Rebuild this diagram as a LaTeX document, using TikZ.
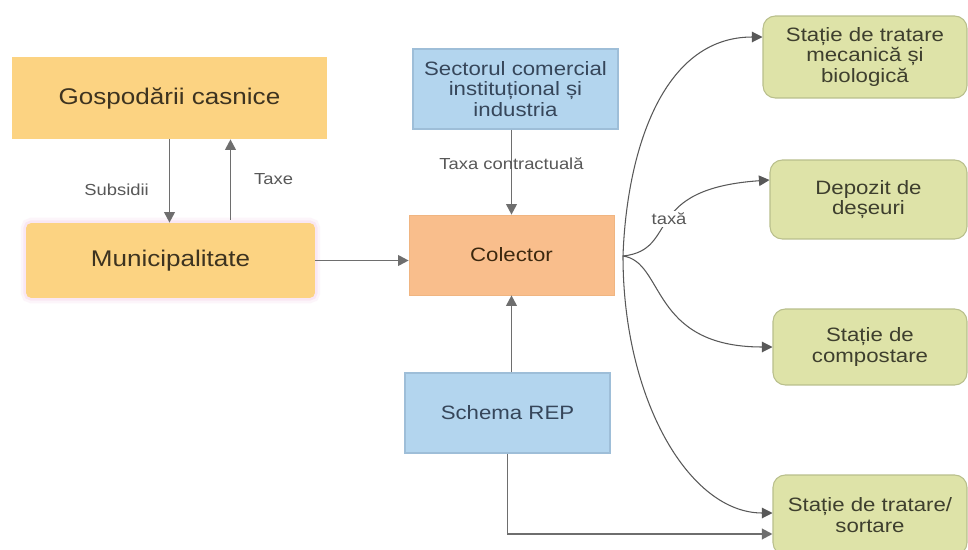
\documentclass[tikz,border=0pt]{standalone}
\usepackage{fontspec}
\setmainfont[FakeStretch=1.15]{Liberation Sans}
\usetikzlibrary{arrows.meta,positioning}

\definecolor{galben}{HTML}{FCD382}
\definecolor{somon}{HTML}{F9BE8C}
\definecolor{albastru}{HTML}{B3D5EE}
\definecolor{chenaralb}{HTML}{9EBED8}
\definecolor{verde}{HTML}{DEE3A8}
\definecolor{chenarverde}{HTML}{B9BF8C}
\definecolor{roz}{HTML}{F4CFE6}
\definecolor{gri}{HTML}{6E6E6E}
\definecolor{gricurba}{HTML}{585858}
\definecolor{textmaro}{HTML}{3D3320}
\definecolor{textalb}{HTML}{36465A}
\definecolor{textverde}{HTML}{3E3F2E}

\tikzset{
  cutie/.style={inner sep=2pt, align=center},
  cutiemare/.style={cutie, fill=galben, text=textmaro, font=\fontsize{12.9}{14}\selectfont},
  cutiealb/.style={cutie, fill=albastru, draw=chenaralb, line width=0.6pt, text=textalb, font=\fontsize{11}{11.5}\selectfont},
  cutieverde/.style={cutie, fill=verde, draw=chenarverde, line width=0.6pt, rounded corners=7pt, text=textverde, font=\fontsize{11}{11.8}\selectfont},
  sageata/.style={draw=gri, line width=1.1pt, -{Triangle[length=6pt,width=6pt]}},
  curba/.style={draw=gricurba, line width=0.6pt, -{Triangle[length=6pt,width=6pt]}},
  eticheta/.style={text=gri!80!black, font=\fontsize{9.1}{10}\selectfont, inner sep=1pt},
  stralucire/.style={preaction={draw=roz, line width=6pt, opacity=0.2},
                     preaction={draw=roz, line width=3pt, opacity=0.35}}
}

\begin{document}
\begin{tikzpicture}[x=0.02cm,y=0.02cm]
\useasboundingbox (0,0) rectangle (968,549);
\clip (0,0) rectangle (968,549);
\fill[white] (0,0) rectangle (968,549);

% stanga
\node[cutiemare, minimum width=6.3cm, minimum height=1.64cm] (gosp) at (169.5,451) {Gospodării casnice};
\node[cutiemare, stralucire, minimum width=5.78cm, minimum height=1.5cm, rounded corners=3pt] (muni) at (170.5,288.5) {Municipalitate};

% mijloc
\node[cutiealb, minimum width=4.1cm, minimum height=1.6cm] (sector) at (515.5,460) {Sectorul comercial\\instituțional și\\industria};
\node[cutie, fill=somon, draw=somon!85!brown, line width=0.4pt, text=textmaro!80!orange!60!black,
      font=\fontsize{11}{11.5}\selectfont, minimum width=4.1cm, minimum height=1.6cm] (colector) at (511.5,294) {Colector};
\node[cutiealb, minimum width=4.1cm, minimum height=1.6cm] (rep) at (507.5,136) {Schema REP};

% dreapta
\node[cutieverde, minimum width=4.08cm, minimum height=1.64cm] (st1) at (865,492) {Stație de tratare\\mecanică și\\biologică};
\node[cutieverde, minimum width=3.94cm, minimum height=1.58cm] (st2) at (868.5,349.5) {Depozit de\\deșeuri};
\node[cutieverde, minimum width=3.88cm, minimum height=1.52cm] (st3) at (870,202) {Stație de\\compostare};
\node[cutieverde, minimum width=3.88cm, minimum height=1.6cm] (st4) at (870,34) {Stație de tratare/\\sortare};

% sageti drepte
\draw[sageata] (gosp.south) -- (gosp.south |- muni.north) node[eticheta, pos=0.6, left=0.36cm] {Subsidii};
\coordinate (taxejos) at ([xshift=1.2cm,yshift=0.06cm]muni.north);
\draw[sageata] (taxejos) -- (taxejos |- gosp.south) node[eticheta, midway, right=0.42cm] {Taxe};
\draw[sageata] (muni.east) -- (muni.east -| colector.west);
\draw[sageata] (colector.north |- sector.south) -- (colector.north) node[eticheta, pos=0.4] {Taxa contractuală};
\draw[sageata] (colector.south |- rep.north) -- (colector.south);
\coordinate (sortin) at ([yshift=-0.38cm]st4.west);
\draw[sageata] (rep.south) |- (sortin);

% curbe din colector
\coordinate (ramif) at (623,293);
\draw[curba] (ramif) to[out=88,in=180] ([yshift=0.4cm]st1.west);
\draw[curba] (ramif) to[out=6,in=184,out distance=1.15cm,in distance=2.6cm]
  node[eticheta, fill=white, pos=0.5] {taxă} ([yshift=0.39cm]st2.west);
\draw[curba] (ramif) to[out=-8,in=180,out distance=0.85cm,in distance=2.46cm] (st3.west);
\draw[curba] (ramif) to[out=-90,in=180,out distance=2.88cm,in distance=1.66cm] ([yshift=0.04cm]st4.west);
\end{tikzpicture}
\end{document}
